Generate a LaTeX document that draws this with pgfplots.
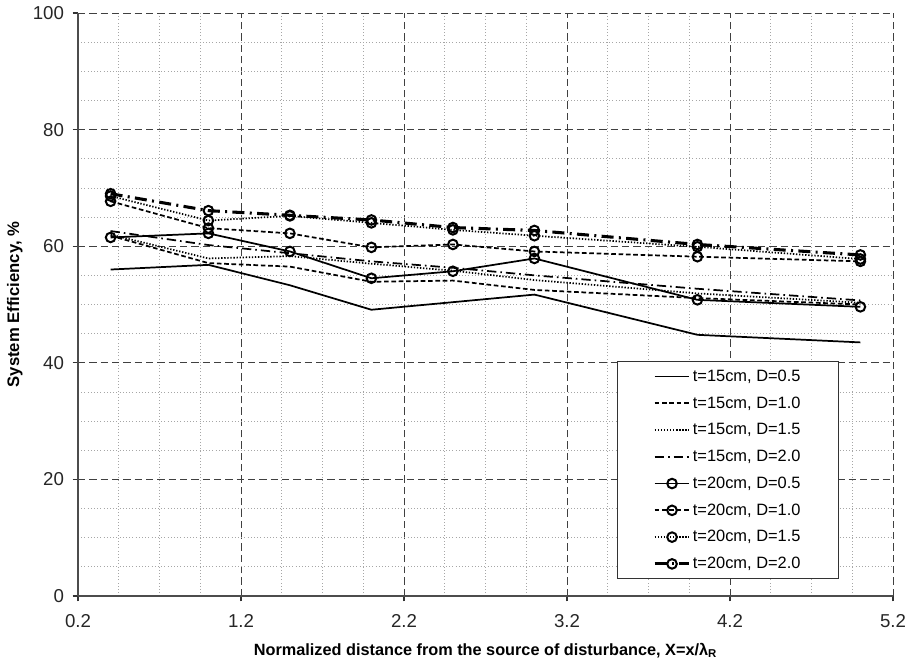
\documentclass[border=0pt]{standalone}
\usepackage{fontspec}
\setmainfont{Liberation Sans}
\usepackage{pgfplots}
\pgfplotsset{compat=1.18}
\usetikzlibrary{calc}

\pgfplotsset{
  s15/.style={black, line width=1.3pt, mark=none},
  s20/.style={black, line width=1.3pt, mark=o, mark size=3.6pt, mark options={solid, line width=1.5pt}},
  pdash/.style={dash pattern=on 3.5pt off 2pt},
  pdot/.style={dash pattern=on 1pt off 1.3pt},
  pdashdot/.style={dash pattern=on 7pt off 3pt on 1.2pt off 3pt},
}

\begin{document}
\begin{tikzpicture}
\begin{axis}[
  name=ax,
  scale only axis, width=611.25pt, height=437.25pt,
  xmin=0.2, xmax=5.2, ymin=0, ymax=100,
  xtick={0.2,1.2,2.2,3.2,4.2,5.2},
  ytick={0,20,40,60,80,100},
  minor x tick num=3, minor y tick num=3,
  grid=both,
  major grid style={black!75, dash pattern=on 5.5pt off 3pt, line width=0.7pt},
  minor grid style={black!35, dotted, line width=0.6pt},
  axis x line*=bottom, axis y line*=left,
  axis line style={black!70, line width=1pt},
  tick align=outside, major tick length=4pt, minor tick length=0pt,
  tick style={black!80, line width=0.9pt},
  /pgf/number format/assume math mode=true,
  xticklabel={\pgfmathprintnumber[fixed, precision=1, fixed zerofill]{\tick}},
  ticklabel style={font=\fontsize{14}{16}\selectfont, text=black!85},
  xticklabel style={yshift=-6pt},
  yticklabel style={xshift=-3pt},
  xlabel={\bfseries Normalized distance from the source of disturbance, X=x/λ\textsubscript{R}},
  ylabel={\bfseries System Efficiency, \%},
  xlabel style={font=\fontsize{12.2}{15}\selectfont, at={(axis description cs:0.5,-0.093)}, anchor=center},
  ylabel style={font=\fontsize{12.5}{15}\selectfont, at={(axis description cs:-0.0775,0.5)}, anchor=center},
  legend style={at={(axis description cs:0.661,0.029)}, anchor=south west,
    draw=black!80, line width=0.7pt, fill=white,
    font=\fontsize{12.3}{14}\selectfont,
    inner xsep=27pt, inner ysep=5pt, row sep=8pt,
    cells={anchor=west}, nodes={inner xsep=1.5pt, inner ysep=1pt}},
  legend image code/.code={\draw[mark repeat=2,mark phase=2] plot coordinates {(0pt,0pt) (13pt,0pt) (26pt,0pt)};},
]
\addplot[s15] coordinates {(0.4,56.0) (1.0,56.8) (1.5,53.3) (2.0,49.1) (2.5,50.4) (3.0,51.7) (4.0,44.8) (5.0,43.5)};
\addlegendentry{t=15cm, D=0.5}
\addplot[s15, pdash] coordinates {(0.4,61.8) (1.0,57.1) (1.5,56.5) (2.0,53.9) (2.5,54.1) (3.0,52.5) (4.0,51.1) (5.0,50.0)};
\addlegendentry{t=15cm, D=1.0}
\addplot[s15, pdot] coordinates {(0.4,62.0) (1.0,57.9) (1.5,58.3) (2.0,57.0) (2.5,55.8) (3.0,54.2) (4.0,51.9) (5.0,50.3)};
\addlegendentry{t=15cm, D=1.5}
\addplot[s15, pdashdot] coordinates {(0.4,62.6) (1.0,60.2) (1.5,58.8) (2.0,57.4) (2.5,56.3) (3.0,55.0) (4.0,52.7) (5.0,50.7)};
\addlegendentry{t=15cm, D=2.0}
\addplot[s20] coordinates {(0.4,61.5) (1.0,62.2) (1.5,59.1) (2.0,54.5) (2.5,55.7) (3.0,57.9) (4.0,50.8) (5.0,49.6)};
\addlegendentry{t=20cm, D=0.5}
\addplot[s20, pdash] coordinates {(0.4,67.7) (1.0,63.1) (1.5,62.2) (2.0,59.8) (2.5,60.3) (3.0,59.1) (4.0,58.2) (5.0,57.4)};
\addlegendentry{t=20cm, D=1.0}
\addplot[s20, pdot] coordinates {(0.4,68.6) (1.0,64.4) (1.5,65.2) (2.0,64.0) (2.5,62.8) (3.0,61.8) (4.0,59.9) (5.0,57.8)};
\addlegendentry{t=20cm, D=1.5}
\addplot[s20, line width=2.3pt, dash pattern=on 9pt off 4pt on 1.5pt off 4pt, mark options={solid, line width=1.5pt}] coordinates {(0.4,69.0) (1.0,66.1) (1.5,65.3) (2.0,64.5) (2.5,63.2) (3.0,62.7) (4.0,60.3) (5.0,58.5)};
\addlegendentry{t=20cm, D=2.0}
\end{axis}
\pgfresetboundingbox
\path ([shift={(-58.5pt,-51.75pt)}]ax.south west) rectangle ([shift={(17.25pt,9.75pt)}]ax.north east);
\end{tikzpicture}
\end{document}
